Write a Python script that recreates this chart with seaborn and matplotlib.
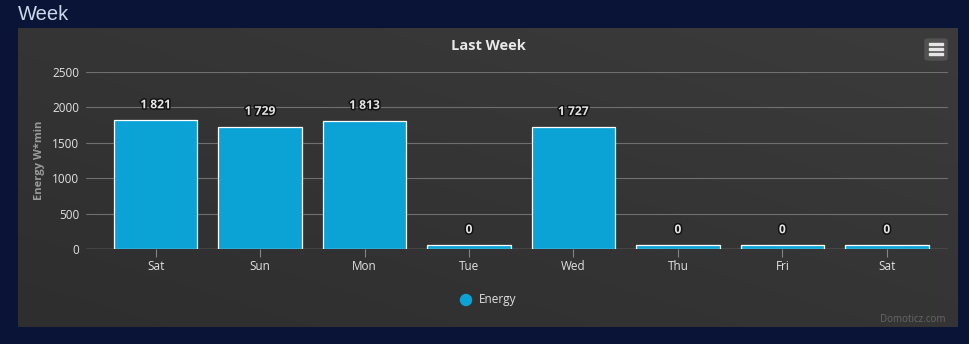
import numpy as np
import pandas as pd
import matplotlib
matplotlib.use("Agg")
import matplotlib.pyplot as plt
import matplotlib.patheffects as pe
from matplotlib.patches import FancyBboxPatch, Rectangle, Ellipse
import seaborn as sns

# ---- data ----
days = ["Sat", "Sun", "Mon", "Tue", "Wed", "Thu", "Fri", "Sat"]
energy = [1821, 1729, 1813, 0, 1727, 0, 0, 0]
y_ticks = [0, 500, 1000, 1500, 2000, 2500]
series_name = "Energy"
chart_title = "Last Week"
section_title = "Week"
y_label = "Energy W*min"
credits = "Domoticz.com"

sns.set_style("dark")
plt.rcParams["font.family"] = ["Open Sans", "DejaVu Sans"]

W, H = 970, 344
fig = plt.figure(figsize=(W / 100, H / 100), dpi=100)
fig.patch.set_facecolor("#0a1436")

# page heading
fig.text(18 / W, 1 - 15 / H, section_title, color="#c9d9ea", fontsize=14.5,
         ha="left", va="center", family=["Liberation Sans", "DejaVu Sans"])

# chart panel with a soft diagonal gradient
panel = fig.add_axes([18 / W, 1 - 327 / H, (958 - 18) / W, (327 - 28) / H])
panel.set_axis_off()
gx, gy = np.meshgrid(np.linspace(0, 1, 200), np.linspace(0, 1, 100))
grad = 0.5 * gx + 0.5 * (1 - gy)
panel.imshow(grad, cmap=matplotlib.colors.LinearSegmentedColormap.from_list(
    "bg", ["#2e2e2e", "#3b3b3b"]), aspect="auto", extent=[0, 1, 0, 1], origin="upper")
panel.set_xlim(0, 1)
panel.set_ylim(0, 1)

# plot area
ax = fig.add_axes([86 / W, 1 - 249 / H, (948 - 86) / W, (249 - 72) / H])
ax.set_facecolor("none")
ax.set_xlim(-0.667, 7.586)
ax.set_ylim(0, 2500)

# minimum visible bar height (px) for zero values
fig.canvas.draw()
px_per_unit = ax.bbox.height / 2500
min_len = 4 / px_per_unit
shown = [max(v, min_len) for v in energy]

df = pd.DataFrame({"idx": list(range(len(days))), "shown": shown})
sns.barplot(data=df, x="idx", y="shown", ax=ax, color="#0ba3d6", saturation=1,
            width=0.80, edgecolor="white", linewidth=0.9, zorder=3)
ax.set_xlim(-0.667, 7.586)
ax.set_ylim(0, 2500)

for s in ax.spines.values():
    s.set_visible(False)
ax.set_yticks(y_ticks)
ax.set_yticklabels([str(t) for t in y_ticks])
ax.yaxis.grid(True, color="#6f6f6f", linewidth=0.8, zorder=0)
ax.xaxis.grid(False)
ax.axhline(0, color="#858585", linewidth=1.0, zorder=2)
ax.tick_params(axis="y", length=0, pad=5, labelsize=8.5, labelcolor="#e2e2e2")
ax.tick_params(axis="x", length=6, width=0.8, color="#858585", pad=2,
               labelsize=8.5, labelcolor="#e2e2e2", bottom=True)
ax.set_xticks(range(len(days)))
ax.set_xticklabels(days)
ax.set_xlabel("")
ax.set_ylabel("")

# value labels
for i, (v, h) in enumerate(zip(energy, shown)):
    txt = f"{v:,}".replace(",", " ")
    ax.annotate(txt, (i, h), xytext=(0, 11), textcoords="offset points",
                ha="center", va="center", fontsize=8.7, fontweight="bold",
                color="#e4e4e4", zorder=5,
                path_effects=[pe.withStroke(linewidth=2.2, foreground="#111111")])

# titles and axis label
fig.text(488 / W, 1 - 46 / H, chart_title, color="#e8e8e8", fontsize=10.5,
         fontweight="bold", ha="center", va="center")
fig.text(40 / W, 1 - 160 / H, y_label, color="#9a9a9a", fontsize=8,
         fontweight="bold", ha="center", va="center", rotation=90)

# legend
fig.patches.append(Ellipse((466 / W, 1 - 300 / H), 11 / W, 11 / H,
                           transform=fig.transFigure, color="#0ba3d6"))
fig.text(479 / W, 1 - 300 / H, series_name, color="#e0e0e0", fontsize=8.5,
         ha="left", va="center")

# context menu button
fig.patches.append(FancyBboxPatch((925 / W, 1 - 60 / H), 22 / W, 21 / H,
                                  boxstyle="round,pad=0,rounding_size=0.004",
                                  transform=fig.transFigure, color="#525252"))
for yy in (44, 49, 54):
    fig.patches.append(Rectangle((929 / W, 1 - (yy + 1) / H), 14 / W, 2 / H,
                                 transform=fig.transFigure, color="#e6e6e6"))

# credits
fig.text(946 / W, 1 - 320 / H, credits, color="#666666", fontsize=7,
         ha="right", va="center")

fig.savefig("out.png", dpi=100, facecolor=fig.get_facecolor())
